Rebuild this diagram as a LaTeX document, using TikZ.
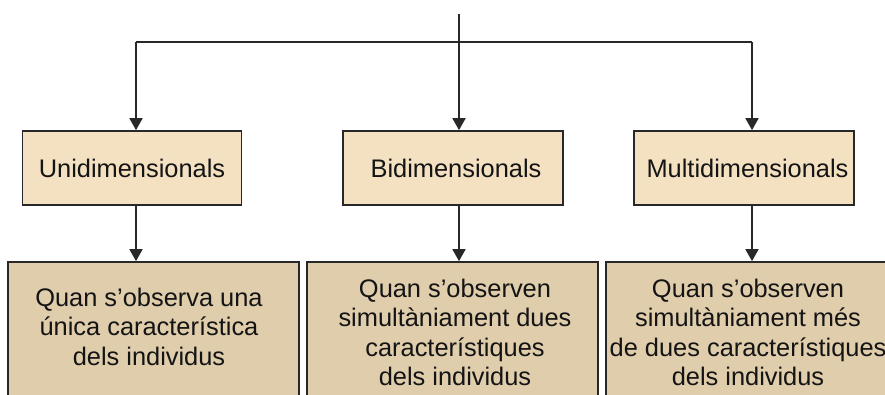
\documentclass[tikz,border=0pt]{standalone}
\usepackage{fontspec}
\setmainfont{Liberation Sans}
\usetikzlibrary{arrows.meta}
\definecolor{topfill}{RGB}{243,225,194}
\definecolor{botfill}{RGB}{223,205,172}
\definecolor{linec}{RGB}{40,40,40}
\definecolor{txtc}{RGB}{20,20,20}
\tikzset{
  conn/.style={draw=linec, line width=1.7pt},
  arr/.style={conn, -{Triangle[width=13pt,length=12pt]}},
  topbox/.style={draw=linec, line width=1.7pt, fill=topfill, rectangle, minimum height=74pt, inner sep=0pt, text=txtc, font=\fontsize{25.4}{29.6}\selectfont},
  botbox/.style={draw=linec, line width=1.7pt, fill=botfill, rectangle, minimum width=291pt, minimum height=160pt, inner sep=0pt},
  bottxt/.style={anchor=north, align=center, inner sep=0pt, text=txtc, font=\fontsize{25.4}{29.6}\selectfont}
}
\begin{document}
\begin{tikzpicture}[x=1pt,y=-1pt]
\useasboundingbox (0,0) rectangle (885,394);
\clip (0,0) rectangle (885,394);
\fill[white] (0,0) rectangle (885,394);
% top boxes
\node[topbox, minimum width=219pt] (u) at (132,168) {Unidimensionals};
\node[topbox, minimum width=220pt] (b) at (453,168) {\hspace*{6pt}Bidimensionals};
\node[topbox, minimum width=220pt] (m) at (744,168) {\hspace*{7pt}Multidimensionals};
% bottom boxes
\node[botbox] (d1) at (153.5,342) {};
\node[botbox] (d2) at (452.5,342) {};
\node[botbox] (d3) at (751.5,342) {};
\node[bottxt] (t1) at (149,287.5) {Quan s’observa una\\única característica\\dels individus};
\node[bottxt] (t2) at (455,278.5) {Quan s’observen\\simultàniament dues\\característiques\\dels individus};
\node[bottxt] (t3) at (748,278.5) {Quan s’observen\\simultàniament més\\de dues característiques\\dels individus};
% coordinates
\coordinate (c2) at (459,14);
\coordinate (c1) at (136,42);
\coordinate (c3) at (752,42);
% connectors
\draw[conn] (c1) -- (c3);
\draw[arr] (c2) -- (c2 |- b.north);
\draw[arr] (c1) -- (c1 |- u.north);
\draw[arr] (c3) -- (c3 |- m.north);
\draw[arr] (c1 |- u.south) -- (c1 |- d1.north);
\draw[arr] (c2 |- b.south) -- (c2 |- d2.north);
\draw[arr] (c3 |- m.south) -- (c3 |- d3.north);
\end{tikzpicture}
\end{document}
